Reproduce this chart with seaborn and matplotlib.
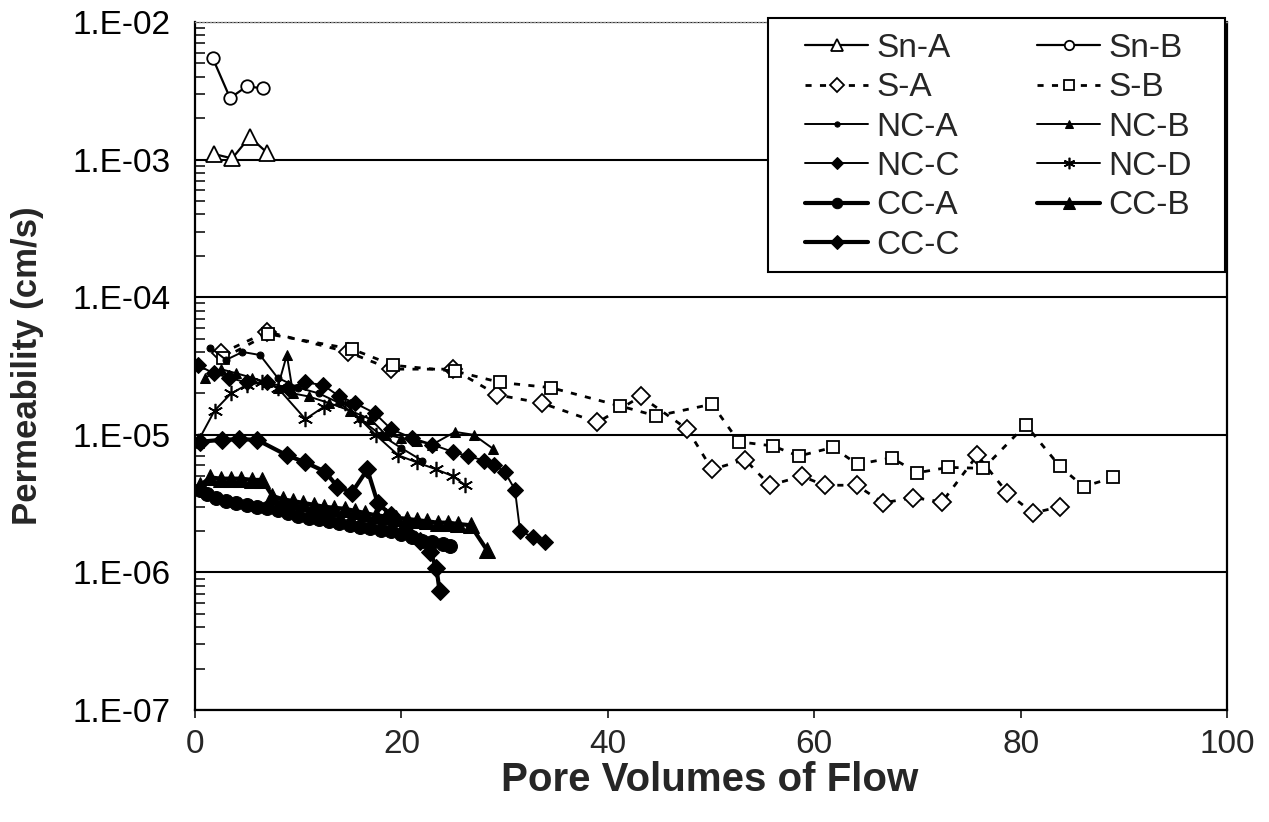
import numpy as np
import pandas as pd
import matplotlib
matplotlib.use("Agg")
import matplotlib.pyplot as plt
from matplotlib.ticker import FixedLocator, LogLocator, FuncFormatter, NullFormatter
from matplotlib.patches import Rectangle
import seaborn as sns

sns.set_style("white")
plt.rcParams['font.family'] = ['Liberation Sans', 'DejaVu Sans']

# ---------------- data ----------------
sn_a_x = [1.8, 3.6, 5.3, 7.0]
sn_a_y = [1.10e-3, 1.02e-3, 1.46e-3, 1.12e-3]

sn_b_x = [1.7, 3.4, 5.0, 6.6]
sn_b_y = [5.5e-3, 2.8e-3, 3.4e-3, 3.3e-3]

s_a_x = [2.5, 7.0, 14.8, 19.0, 25.0, 29.3, 33.6, 39.0, 43.2, 47.7, 50.1, 53.3,
         55.7, 58.8, 61.0, 64.1, 66.7, 69.6, 72.4, 75.8, 78.7, 81.2, 83.8]
s_a_y = [3.9e-5, 5.6e-5, 4.0e-5, 3.0e-5, 3.0e-5, 1.95e-5, 1.7e-5, 1.23e-5, 1.9e-5,
         1.1e-5, 5.6e-6, 6.6e-6, 4.3e-6, 5.0e-6, 4.3e-6, 4.3e-6, 3.2e-6, 3.5e-6,
         3.25e-6, 7.1e-6, 3.8e-6, 2.7e-6, 3.0e-6]

s_b_x = [2.7, 7.1, 15.2, 19.2, 25.2, 29.6, 34.5, 41.2, 44.7, 50.1, 52.7, 56.0,
         58.5, 61.8, 64.2, 67.5, 70.0, 73.0, 76.4, 80.5, 83.8, 86.1, 89.0]
s_b_y = [3.6e-5, 5.4e-5, 4.2e-5, 3.2e-5, 2.9e-5, 2.4e-5, 2.2e-5, 1.62e-5, 1.37e-5,
         1.67e-5, 8.9e-6, 8.3e-6, 7.0e-6, 8.1e-6, 6.1e-6, 6.8e-6, 5.3e-6, 5.8e-6,
         5.7e-6, 1.18e-5, 5.9e-6, 4.2e-6, 4.9e-6]

nc_a_x = [1.5, 3.0, 4.6, 6.3, 8.0, 10.0, 12.0, 14.0, 16.0, 18.0, 20.0, 22.0]
nc_a_y = [4.3e-5, 3.5e-5, 4.0e-5, 3.8e-5, 2.6e-5, 2.2e-5, 2.0e-5, 1.7e-5,
          1.3e-5, 1.0e-5, 8.0e-6, 6.5e-6]

nc_b_x = [1.0, 2.5, 4.0, 5.5, 7.0, 8.0, 8.9, 9.5, 11.0, 13.0, 15.0, 17.0, 18.5,
          20.0, 21.5, 23.0, 25.2, 27.0, 28.9]
nc_b_y = [2.6e-5, 3.0e-5, 2.8e-5, 2.6e-5, 2.4e-5, 2.2e-5, 3.8e-5, 2.0e-5, 1.9e-5,
          1.7e-5, 1.5e-5, 1.3e-5, 1.0e-5, 9.5e-6, 9.0e-6, 8.5e-6, 1.05e-5, 1.0e-5, 7.9e-6]

nc_c_x = [0.3, 1.8, 3.3, 5.0, 7.0, 9.0, 10.7, 12.4, 14.0, 15.5, 17.4, 19.0, 21.0,
          23.0, 25.0, 26.5, 28.0, 29.0, 30.0, 31.0, 31.5, 32.8, 33.9]
nc_c_y = [3.2e-5, 2.8e-5, 2.6e-5, 2.4e-5, 2.4e-5, 2.2e-5, 2.4e-5, 2.3e-5, 1.9e-5,
          1.7e-5, 1.44e-5, 1.1e-5, 9.5e-6, 8.5e-6, 7.5e-6, 7.0e-6, 6.5e-6, 6.0e-6,
          5.4e-6, 4.0e-6, 2.0e-6, 1.8e-6, 1.65e-6]

nc_d_x = [0.3, 1.9, 3.5, 5.0, 6.5, 8.0, 10.7, 12.5, 14.5, 16.0, 17.5, 19.7, 21.5,
          23.4, 25.0, 26.2]
nc_d_y = [9.0e-6, 1.5e-5, 2.0e-5, 2.3e-5, 2.4e-5, 2.2e-5, 1.3e-5, 1.6e-5, 1.7e-5,
          1.3e-5, 1.0e-5, 7.1e-6, 6.3e-6, 5.6e-6, 5.0e-6, 4.3e-6]

cc_a_x = [0.5, 1.2, 2.0, 3.0, 4.0, 5.0, 6.0, 7.0, 8.0, 9.0, 10.0, 11.0, 12.0,
          13.0, 14.0, 15.0, 16.0, 17.0, 18.0, 19.0, 20.0, 21.0, 22.0, 23.0, 24.0, 24.7]
cc_a_y = [4.0e-6, 3.7e-6, 3.5e-6, 3.3e-6, 3.2e-6, 3.1e-6, 3.0e-6, 2.95e-6, 2.85e-6,
          2.7e-6, 2.55e-6, 2.5e-6, 2.45e-6, 2.35e-6, 2.3e-6, 2.2e-6, 2.15e-6, 2.1e-6,
          2.05e-6, 2.0e-6, 1.9e-6, 1.8e-6, 1.7e-6, 1.65e-6, 1.6e-6, 1.55e-6]

cc_b_x = [0.5, 1.5, 2.5, 3.5, 4.5, 5.5, 6.5, 7.5, 8.5, 9.5, 10.5, 11.5, 12.5, 13.5,
          14.5, 15.5, 16.5, 17.5, 18.5, 19.5, 20.5, 21.5, 22.5, 23.5, 24.5, 25.5,
          26.7, 28.3]
cc_b_y = [4.3e-6, 4.9e-6, 4.8e-6, 4.8e-6, 4.8e-6, 4.7e-6, 4.7e-6, 3.6e-6, 3.4e-6,
          3.3e-6, 3.2e-6, 3.1e-6, 3.0e-6, 2.95e-6, 2.9e-6, 2.8e-6, 2.7e-6, 2.6e-6,
          2.55e-6, 2.5e-6, 2.45e-6, 2.4e-6, 2.35e-6, 2.3e-6, 2.3e-6, 2.25e-6, 2.2e-6, 1.45e-6]

cc_c_x = [0.5, 2.6, 4.3, 6.0, 8.9, 10.7, 12.6, 13.8, 15.2, 16.7, 17.7, 19.0, 20.5,
          21.8, 22.8, 23.4, 23.7]
cc_c_y = [8.9e-6, 9.2e-6, 9.3e-6, 9.2e-6, 7.1e-6, 6.3e-6, 5.4e-6, 4.2e-6, 3.8e-6,
          5.6e-6, 3.2e-6, 2.6e-6, 2.2e-6, 1.7e-6, 1.4e-6, 1.07e-6, 7.3e-7]

x_ticks = [0, 20, 40, 60, 80, 100]
y_ticks = [1e-7, 1e-6, 1e-5, 1e-4, 1e-3, 1e-2]

# ---------------- figure ----------------
W, H = 1269, 822
fig = plt.figure(figsize=(W / 100, H / 100), dpi=100)
ax = fig.add_axes([195 / W, 1 - 710 / H, (1227 - 195) / W, (710 - 22) / H])

open_kw = dict(markerfacecolor='white', markeredgecolor='black', markeredgewidth=1.3)
fill_kw = dict(markerfacecolor='black', markeredgecolor='black')
dash = (0, (2.2, 3.0))

series = [
    ("Sn-A", sn_a_x, sn_a_y, dict(marker='^', markersize=11, linewidth=1.6, linestyle='-', **open_kw)),
    ("Sn-B", sn_b_x, sn_b_y, dict(marker='o', markersize=9, linewidth=1.6, linestyle='-', **open_kw)),
    ("S-A", s_a_x, s_a_y, dict(marker='D', markersize=9, linewidth=2.0, linestyle=dash, **open_kw)),
    ("S-B", s_b_x, s_b_y, dict(marker='s', markersize=9, linewidth=2.0, linestyle=dash, **open_kw)),
    ("NC-A", nc_a_x, nc_a_y, dict(marker='o', markersize=5, linewidth=1.4, linestyle='-', **fill_kw)),
    ("NC-B", nc_b_x, nc_b_y, dict(marker='^', markersize=7, linewidth=1.4, linestyle='-', **fill_kw)),
    ("NC-C", nc_c_x, nc_c_y, dict(marker='D', markersize=8, linewidth=1.4, linestyle='-', **fill_kw)),
    ("NC-D", nc_d_x, nc_d_y, dict(marker=(6, 2, 0), markersize=11, linewidth=1.4, linestyle='-',
                                   markeredgecolor='black', markeredgewidth=1.2)),
    ("CC-A", cc_a_x, cc_a_y, dict(marker='o', markersize=10, linewidth=3.0, linestyle='-', **fill_kw)),
    ("CC-B", cc_b_x, cc_b_y, dict(marker='^', markersize=11, linewidth=3.0, linestyle='-', **fill_kw)),
    ("CC-C", cc_c_x, cc_c_y, dict(marker='D', markersize=9, linewidth=3.0, linestyle='-', **fill_kw)),
]

for name, xs, ys, kw in series:
    df = pd.DataFrame({"x": xs, "y": ys})
    sns.lineplot(data=df, x="x", y="y", ax=ax, sort=False, color='black',
                 label=name, **kw)

ax.set_yscale('log')
ax.set_ylim(1e-7, 1e-2)
ax.set_xlim(0, 100)

ax.yaxis.set_major_locator(FixedLocator(y_ticks))
ax.yaxis.set_major_formatter(FuncFormatter(lambda v, p: "1.E%+03d" % int(round(np.log10(v)))))
ax.yaxis.set_minor_locator(LogLocator(base=10, subs=np.arange(2, 10), numticks=20))
ax.yaxis.set_minor_formatter(NullFormatter())
ax.set_xticks(x_ticks)

ax.tick_params(axis='y', which='major', direction='out', length=6.5, width=1.5,
               labelsize=24, pad=11, colors='black')
ax.tick_params(axis='y', which='minor', direction='in', length=7, width=1.3, left=True)
ax.tick_params(axis='x', which='major', direction='out', length=6, width=1.3,
               labelsize=24, pad=8, bottom=True)

ax.grid(False)
ax.yaxis.grid(True, which='major', color='black', linewidth=1.5)
ax.set_axisbelow(True)

for side in ['left', 'bottom', 'right']:
    ax.spines[side].set_color('black')
    ax.spines[side].set_linewidth(1.6)
ax.spines['top'].set_color('#888888')
ax.spines['top'].set_linestyle(':')
ax.spines['top'].set_linewidth(1.0)

ax.set_xlabel("Pore Volumes of Flow", fontsize=29, fontweight='bold')
ax.xaxis.set_label_coords(0.499, -0.074)
ax.set_ylabel("Permeability (cm/s)", fontsize=25, fontweight='bold')
ax.yaxis.set_label_coords(-0.146, 0.5)

# legend frame (drawn in figure coords, below the legend entries)
frame = Rectangle((768 / W, 1 - 272 / H), (1225 - 768) / W, (272 - 18) / H,
                  transform=fig.transFigure, facecolor='white',
                  edgecolor='black', linewidth=1.5, zorder=6, clip_on=False)
ax.add_patch(frame)

# legend: row-wise order in two columns
handles, labels = ax.get_legend_handles_labels()
order = [0, 2, 4, 6, 8, 10, 1, 3, 5, 7, 9]
leg = ax.legend([handles[i] for i in order], [labels[i] for i in order],
                loc='upper left', bbox_to_anchor=(805 / W, 1 - 33 / H),
                bbox_transform=fig.transFigure, ncol=2, fontsize=24,
                frameon=False, handlelength=1.9, handletextpad=0.25,
                labelspacing=0.25, columnspacing=2.3, borderpad=0,
                borderaxespad=0, markerscale=0.75)
leg.set_zorder(10)

fig.savefig("out.png", dpi=100, facecolor='white')
